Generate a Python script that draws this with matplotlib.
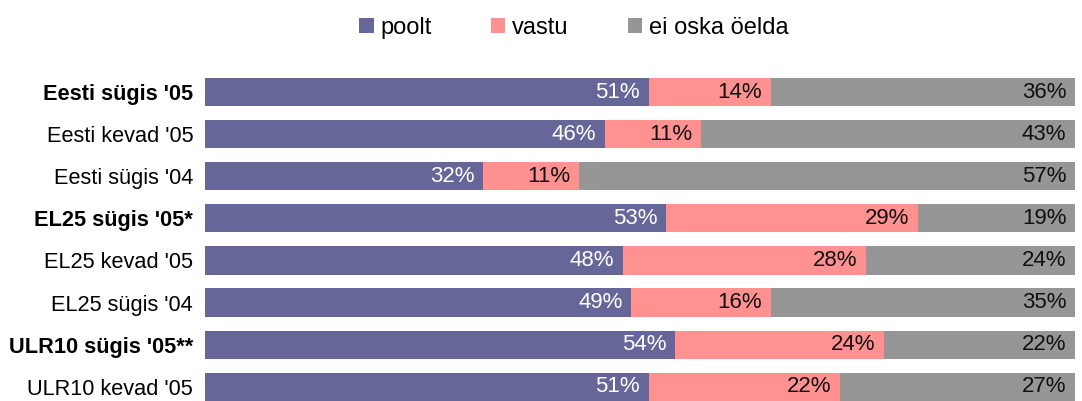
import matplotlib
matplotlib.use("Agg")
import matplotlib.pyplot as plt
from matplotlib.patches import Patch

categories = ["Eesti sügis '05", "Eesti kevad '05", "Eesti sügis '04",
              "EL25 sügis '05*", "EL25 kevad '05", "EL25 sügis '04",
              "ULR10 sügis '05**", "ULR10 kevad '05"]
bold_rows = [True, False, False, True, False, False, True, False]
poolt = [51, 46, 32, 53, 48, 49, 54, 51]
vastu = [14, 11, 11, 29, 28, 16, 24, 22]
ei_oska = [36, 43, 57, 19, 24, 35, 22, 27]
series_names = ["poolt", "vastu", "ei oska öelda"]
colors = ["#666699", "#FF9191", "#969696"]
text_colors = ["white", "#111111", "#111111"]

plt.rcParams['font.family'] = ['Liberation Sans', 'DejaVu Sans']

W, H = 1082, 401
fig = plt.figure(figsize=(W / 100, H / 100), dpi=100)
ax_top = 71
ax_h = 8 * 42.1
ax = fig.add_axes([205 / W, (H - ax_top - ax_h) / H, 870 / W, ax_h / H])

ys = list(range(len(categories)))
left = [0] * len(categories)
for vals, name, col, tcol in zip([poolt, vastu, ei_oska], series_names, colors, text_colors):
    ax.barh(ys, vals, left=left, height=0.67, color=col, label=name)
    for i, v in enumerate(vals):
        end = min(left[i] + v, 100)
        ax.text(end - 1.0, ys[i], f"{v}%", ha='right', va='center',
                color=tcol, fontsize=16)
    left = [l + v for l, v in zip(left, vals)]

ax.set_xlim(0, 100)
ax.set_ylim(len(categories) - 0.5, -0.5)
ax.set_yticks(ys)
ax.set_yticklabels(categories, fontsize=15.7)
for lbl, b in zip(ax.get_yticklabels(), bold_rows):
    if b:
        lbl.set_fontweight('bold')
ax.tick_params(axis='y', length=0, pad=8.5)
ax.set_xticks([])
for s in ax.spines.values():
    s.set_visible(False)

handles = [Patch(facecolor=c, edgecolor='none') for c in colors]
fig.legend(handles, series_names, loc='center', ncol=3,
           bbox_to_anchor=(574 / W, 1 - 28 / H), frameon=False,
           fontsize=17, handlelength=0.6, handleheight=0.6,
           handletextpad=0.3, columnspacing=2.5)

fig.savefig("out.png", dpi=100)
